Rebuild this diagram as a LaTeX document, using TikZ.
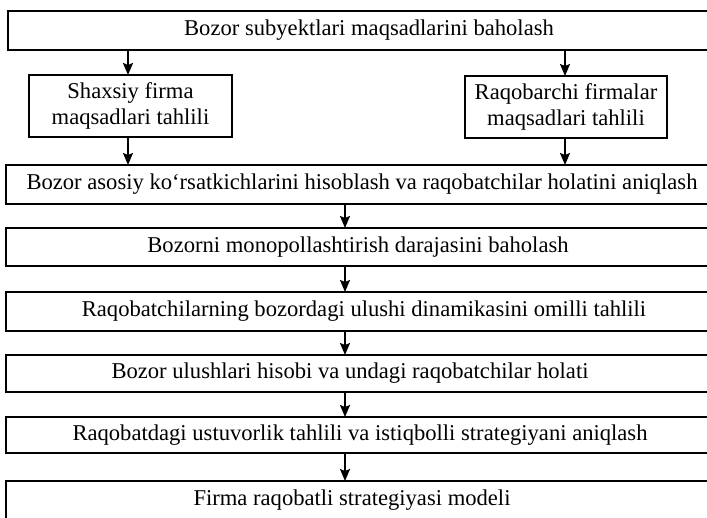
\documentclass[tikz,border=0pt]{standalone}
\usepackage{fontspec}
\setmainfont{Liberation Serif}
\usetikzlibrary{arrows.meta}
\begin{document}
\begin{tikzpicture}[x=1pt,y=-1pt,
  box/.style={draw, line width=1.7pt, inner sep=0pt, outer sep=0pt, anchor=north west},
  sbox/.style={draw, line width=1.7pt, inner sep=0pt, outer sep=0pt, align=center,
    font=\fontsize{22.6}{26}\selectfont},
  txt/.style={inner sep=0pt, font=\fontsize{22.6}{26}\selectfont},
  arr/.style={line width=1.5pt, -{Stealth[length=12pt,width=10pt,inset=2pt]}}]
\useasboundingbox (0,0) rectangle (707,517);
% boxes
\node[box, minimum width=712, minimum height=39] (b1) at (8,11) {};
\node[sbox, minimum width=203, minimum height=62] (s1) at (130.5,106) {Shaxsiy firma\\maqsadlari tahlili};
\node[sbox, minimum width=202, minimum height=62] (s2) at (566,107) {Raqobarchi firmalar\\maqsadlari tahlili};
\node[box, minimum width=714, minimum height=39] (b3) at (6,165) {};
\node[box, minimum width=714, minimum height=38] (b4) at (6,228) {};
\node[box, minimum width=714, minimum height=39] (b5) at (6,292) {};
\node[box, minimum width=714, minimum height=37] (b6) at (6,355) {};
\node[box, minimum width=714, minimum height=36] (b7) at (6,417) {};
\node[box, minimum width=714, minimum height=45] (b8) at (6,481) {};
% texts
\node[txt] (t1) at (369,30.5) {Bozor subyektlari maqsadlarini baholash};
\node[txt] (t3) at (362,184.5) {Bozor asosiy ko‘rsatkichlarini hisoblash va raqobatchilar holatini aniqlash};
\node[txt] (t4) at (358,247) {Bozorni monopollashtirish darajasini baholash};
\node[txt] (t5) at (364,311.5) {Raqobatchilarning bozordagi ulushi dinamikasini omilli tahlili};
\node[txt] (t6) at (350,373.5) {Bozor ulushlari hisobi va undagi raqobatchilar holati};
\node[txt] (t7) at (360,435) {Raqobatdagi ustuvorlik tahlili va istiqbolli strategiyani aniqlash};
\node[txt] (t8) at (352,500) {Firma raqobatli strategiyasi modeli};
% arrow axes
\coordinate (xa) at (128,0);
\coordinate (xb) at (565,0);
\coordinate (xm) at (345,0);
% arrows
\draw[arr] (b1.south -| xa) -- (s1.north -| xa);
\draw[arr] (b1.south -| xb) -- (s2.north -| xb);
\draw[arr] (s1.south -| xa) -- (b3.north -| xa);
\draw[arr] (s2.south -| xb) -- (b3.north -| xb);
\draw[arr] (b3.south -| xm) -- (b4.north -| xm);
\draw[arr] (b4.south -| xm) -- (b5.north -| xm);
\draw[arr] (b5.south -| xm) -- (b6.north -| xm);
\draw[arr] (b6.south -| xm) -- (b7.north -| xm);
\draw[arr] (b7.south -| xm) -- (b8.north -| xm);
\end{tikzpicture}
\end{document}
